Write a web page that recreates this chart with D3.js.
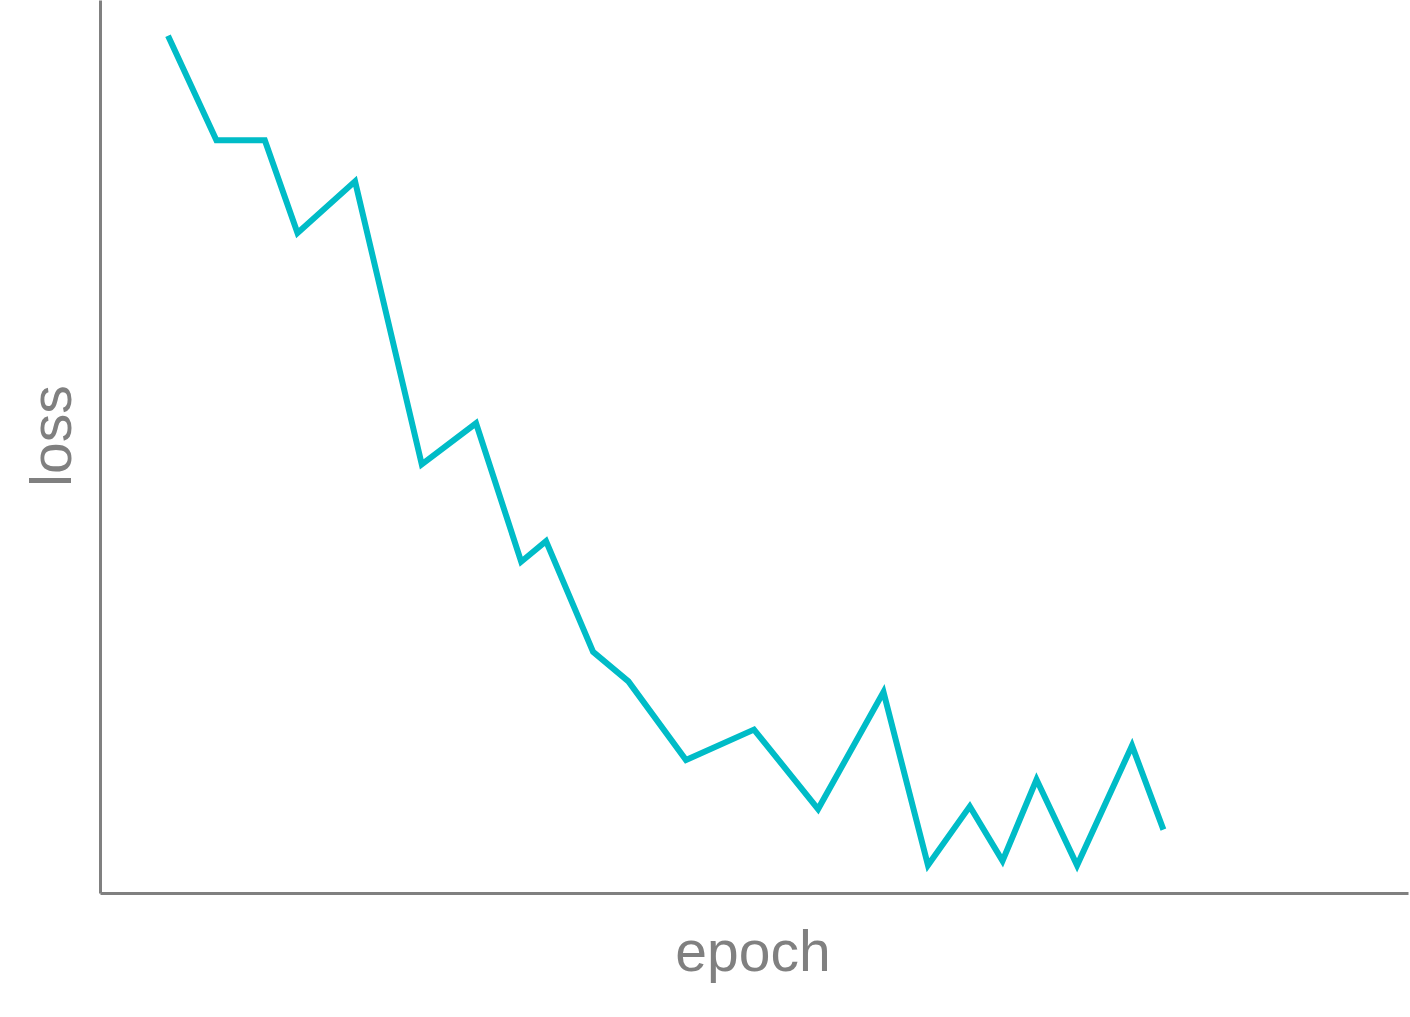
<!DOCTYPE html>
<html>
<head>
<meta charset="utf-8">
<script src="https://cdn.jsdelivr.net/npm/d3@7"></script>
<style>
  body { margin: 0; background: #fff; }
  svg { display: block; }
  .axis path { stroke: #808080; stroke-width: 3px; }
  .label { fill: #808080; font-family: "Liberation Sans", Arial, sans-serif; font-size: 57px; }
</style>
</head>
<body>
<svg class="svg"></svg>
<script>
const epoch = [5.2, 8.9, 12.6, 15.1, 19.5, 24.6, 28.75, 32.2, 34.1, 37.7, 40.4,
  44.8, 50.0, 54.9, 59.9, 63.3, 66.5, 69.0, 71.6, 74.7, 78.9, 81.3];
const loss = [0.960, 0.843, 0.843, 0.739, 0.797, 0.480, 0.526, 0.371, 0.394, 0.270, 0.237,
  0.149, 0.183, 0.094, 0.225, 0.031, 0.097, 0.036, 0.127, 0.031, 0.165, 0.071];

const width = 1410, height = 1017;
const svg = d3.select(".svg").attr("width", width).attr("height", height);

const x = d3.scaleLinear().domain([0, 100]).range([100, 1408]);
const y = d3.scaleLinear().domain([0, 1]).range([893, 0]);

svg.append("g").attr("class", "axis")
  .attr("transform", "translate(0,893)")
  .call(d3.axisBottom(x).ticks(0).tickSizeOuter(0));
svg.append("g").attr("class", "axis")
  .attr("transform", "translate(100,0)")
  .call(d3.axisLeft(y).ticks(0).tickSizeOuter(0));

const points = epoch.map((e, i) => [e, loss[i]]);
const line = d3.line().x(d => x(d[0])).y(d => y(d[1]));

svg.append("path")
  .datum(points)
  .attr("d", line)
  .attr("fill", "none")
  .attr("stroke", "#00bcc7")
  .attr("stroke-width", 6);

svg.append("text").attr("class", "label")
  .attr("x", 753).attr("y", 971)
  .attr("text-anchor", "middle")
  .text("epoch");

svg.append("text").attr("class", "label")
  .attr("transform", "translate(71,436) rotate(-90)")
  .attr("text-anchor", "middle")
  .text("loss");
</script>
</body>
</html>
